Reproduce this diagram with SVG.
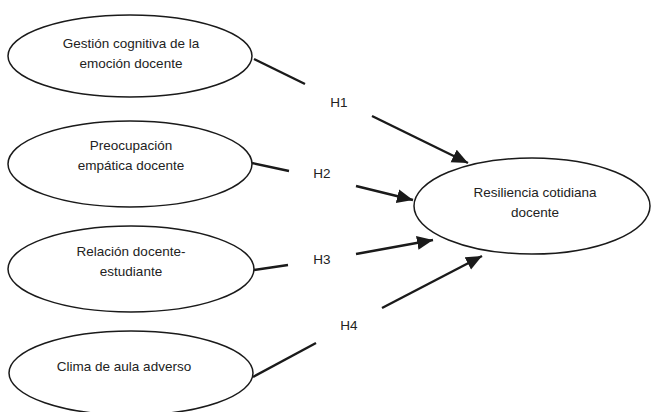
<svg xmlns="http://www.w3.org/2000/svg" width="651" height="412" viewBox="0 0 651 412">
  <style>
    .node ellipse { fill: #ffffff; stroke: #1a1a1a; stroke-width: 1.5; }
    .node text, .lbl { font-family: "Liberation Sans", "Open Sans", Arial, sans-serif; font-size: 13.5px; fill: #222; text-anchor: middle; }
    .edge { stroke: #1a1a1a; stroke-width: 2.4; fill: none; }
  </style>
  <defs>
    <marker id="arrow" markerUnits="userSpaceOnUse" markerWidth="18" markerHeight="16" refX="16" refY="7" orient="auto">
      <path d="M0,0 L16,7 L0,14 Z" fill="#1a1a1a"/>
    </marker>
  </defs>
  <rect width="651" height="412" fill="#ffffff"/>

  <g id="n-gestion" class="node">
    <ellipse cx="130" cy="56" rx="122" ry="41"/>
    <text x="131" y="48">Gestión cognitiva de la</text>
    <text x="131" y="68">emoción docente</text>
  </g>
  <g id="n-preocupacion" class="node">
    <ellipse cx="130" cy="164" rx="122" ry="43"/>
    <text x="131" y="150">Preocupación</text>
    <text x="131" y="170">empática docente</text>
  </g>
  <g id="n-relacion" class="node">
    <ellipse cx="131" cy="269" rx="123" ry="43"/>
    <text x="131" y="256">Relación docente-</text>
    <text x="131" y="276">estudiante</text>
  </g>
  <g id="n-clima" class="node">
    <ellipse cx="131" cy="373" rx="122" ry="42"/>
    <text x="124" y="371">Clima de aula adverso</text>
  </g>
  <g id="n-resiliencia" class="node">
    <ellipse cx="532" cy="206" rx="118" ry="48"/>
    <text x="535" y="197">Resiliencia cotidiana</text>
    <text x="535" y="217">docente</text>
  </g>

  <g id="connectors">
    <line class="edge" x1="254" y1="59" x2="305" y2="84"/>
    <line class="edge" x1="372" y1="116" x2="468" y2="163" marker-end="url(#arrow)"/>
    <line class="edge" x1="252" y1="163" x2="289" y2="171"/>
    <line class="edge" x1="356" y1="186" x2="413" y2="200" marker-end="url(#arrow)"/>
    <line class="edge" x1="254" y1="270" x2="288" y2="265"/>
    <line class="edge" x1="356" y1="254" x2="433" y2="240" marker-end="url(#arrow)"/>
    <line class="edge" x1="253" y1="377" x2="316" y2="343"/>
    <line class="edge" x1="382" y1="308" x2="482" y2="256" marker-end="url(#arrow)"/>
    <text class="lbl" x="339" y="107">H1</text>
    <text class="lbl" x="322" y="178">H2</text>
    <text class="lbl" x="322" y="264">H3</text>
    <text class="lbl" x="349" y="330">H4</text>
  </g>
</svg>
